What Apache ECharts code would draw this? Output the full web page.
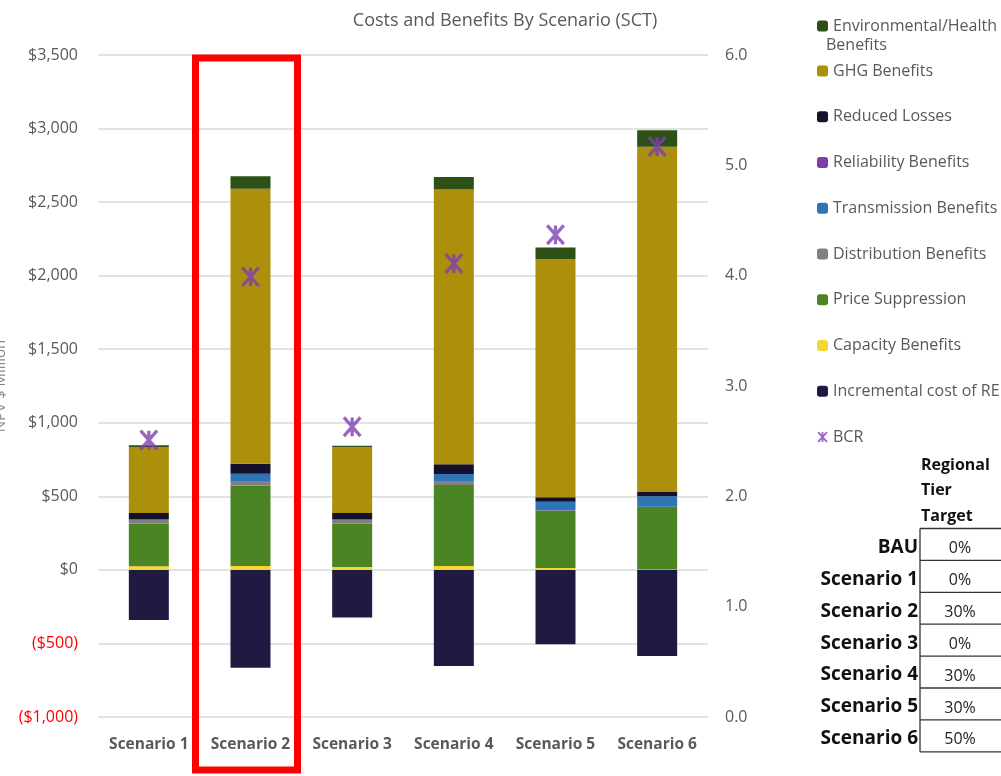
<!DOCTYPE html>
<html>
<head>
<meta charset="utf-8">
<script src="https://cdn.jsdelivr.net/npm/echarts@6/dist/echarts.min.js"></script>
<style>
html,body{margin:0;padding:0;background:#fff;}
#chart{width:1001px;height:776px;}
</style>
</head>
<body>
<div id="chart"></div>
<script>
// ---- data ----
const categories = ['Scenario 1', 'Scenario 2', 'Scenario 3', 'Scenario 4', 'Scenario 5', 'Scenario 6'];
const incrementalCost = [-340, -666, -324, -653, -505, -585];
const capacityBenefits = [25, 27, 20, 27, 12, 3];
const priceSuppression = [290, 546, 295, 550, 388, 426];
const distributionBenefits = [27, 32, 27, 27, 5, 0];
const transmissionBenefits = [0, 48, 0, 48, 59, 72];
const reliabilityBenefits = [0, 0, 0, 0, 0, 0];
const reducedLosses = [45, 68, 45, 66, 30, 32];
const ghgBenefits = [449, 1870, 446, 1868, 1620, 2343];
const envHealthBenefits = [12, 84, 11, 84, 77, 113];
const bcr = [2.51, 3.99, 2.63, 4.11, 4.37, 5.17];

const tableRowLabels = ['BAU', 'Scenario 1', 'Scenario 2', 'Scenario 3', 'Scenario 4', 'Scenario 5', 'Scenario 6'];
const tableTargets = ['0%', '0%', '30%', '0%', '30%', '30%', '50%'];
const tableHeader = ['Regional', 'Tier', 'Target'];

// ---- styles ----
const FONT = '"Open Sans", "Noto Sans", sans-serif';
const GREY = '#595959';
const colors = {
  env: '#2D5114',
  ghg: '#AC900C',
  reduced: '#15112D',
  reliability: '#7E3FA8',
  transmission: '#2E75B6',
  distribution: '#808080',
  price: '#4B8422',
  capacity: '#F6D632',
  incremental: '#1F1A42',
  bcr: '#7E3FB0'
};

const starPath = (function () {
  const t = 1.8;
  const lines = [[0, -10, 0, 10], [-9, -10, 9, 10], [9, -10, -9, 10]];
  let s = '';
  for (const [x1, y1, x2, y2] of lines) {
    const dx = x2 - x1, dy = y2 - y1, L = Math.hypot(dx, dy);
    const nx = dy / L * t, ny = -dx / L * t;
    s += 'M' + (x1 + nx) + ',' + (y1 + ny) + 'L' + (x2 + nx) + ',' + (y2 + ny) +
         'L' + (x2 - nx) + ',' + (y2 - ny) + 'L' + (x1 - nx) + ',' + (y1 - ny) + 'Z';
  }
  return 'path://' + s;
})();

function money(v) {
  const a = Math.abs(v).toLocaleString('en-US');
  return v < 0 ? '($' + a + ')' : '$' + a;
}

function barSeries(name, data, color) {
  return {
    name: name, type: 'bar', stack: 'total', data: data, barWidth: 40,
    itemStyle: { color: color }, emphasis: { disabled: true }
  };
}

const chart = echarts.init(document.getElementById('chart'), null, { renderer: 'canvas' });

const option = {
  animation: false,
  backgroundColor: '#fff',
  textStyle: { fontFamily: FONT },
  title: {
    text: 'Costs and Benefits By Scenario (SCT)',
    left: 500, textAlign: 'center', top: 7,
    textStyle: { fontFamily: FONT, fontSize: 18, fontWeight: 'normal', color: GREY }
  },
  grid: { left: 98, right: 293, top: 55, bottom: 59, containLabel: false, outerBoundsMode: 'none' },
  legend: [
    {
      orient: 'vertical', left: 812, top: 11,
      itemWidth: 11, itemHeight: 11, itemGap: 0,
      data: ['Environmental/Health Benefits'],
      formatter: function () { return 'Environmental/Health'; },
      textStyle: { fontFamily: FONT, fontSize: 16, color: GREY, lineHeight: 20 },
      selectedMode: false
    },
    {
      orient: 'vertical', left: 812, top: 56,
      itemWidth: 11, itemHeight: 11, itemGap: 25.75,
      data: [
        'GHG Benefits', 'Reduced Losses', 'Reliability Benefits', 'Transmission Benefits',
        'Distribution Benefits', 'Price Suppression', 'Capacity Benefits', 'Incremental cost of RE',
        { name: 'BCR', icon: starPath, itemStyle: { color: colors.bcr } }
      ],
      textStyle: { fontFamily: FONT, fontSize: 16, color: GREY, lineHeight: 20 },
      selectedMode: false
    }
  ],
  xAxis: {
    type: 'category', data: categories,
    axisLine: { show: false }, axisTick: { show: false },
    axisLabel: { interval: 0, fontFamily: FONT, fontSize: 15.5, fontWeight: 'bold', color: GREY, margin: 20 }
  },
  yAxis: [
    {
      type: 'value', min: -1000, max: 3500, interval: 500,
      name: 'NPV $ Million', nameLocation: 'middle', nameGap: 90, nameRotate: 90,
      nameTextStyle: { fontFamily: FONT, fontSize: 15, color: '#8a8a8a' },
      axisLine: { show: false }, axisTick: { show: false },
      splitLine: { lineStyle: { color: '#e3e3e3', width: 2 } },
      axisLabel: {
        fontFamily: FONT, fontSize: 16, margin: 20,
        formatter: money,
        color: function (v) { return Number(v) < 0 ? '#FF0000' : GREY; }
      }
    },
    {
      type: 'value', min: 0, max: 6, interval: 1, position: 'right',
      axisLine: { show: false }, axisTick: { show: false }, splitLine: { show: false },
      axisLabel: {
        fontFamily: FONT, fontSize: 16, color: GREY, margin: 17,
        formatter: function (v) { return Number(v).toFixed(1); }
      }
    }
  ],
  series: [
    barSeries('Incremental cost of RE', incrementalCost, colors.incremental),
    barSeries('Capacity Benefits', capacityBenefits, colors.capacity),
    barSeries('Price Suppression', priceSuppression, colors.price),
    barSeries('Distribution Benefits', distributionBenefits, colors.distribution),
    barSeries('Transmission Benefits', transmissionBenefits, colors.transmission),
    barSeries('Reliability Benefits', reliabilityBenefits, colors.reliability),
    barSeries('Reduced Losses', reducedLosses, colors.reduced),
    barSeries('GHG Benefits', ghgBenefits, colors.ghg),
    barSeries('Environmental/Health Benefits', envHealthBenefits, colors.env),
    {
      name: 'BCR', type: 'scatter', yAxisIndex: 1, data: bcr,
      symbol: starPath, symbolSize: [19, 21], z: 10,
      itemStyle: { color: colors.bcr }, emphasis: { disabled: true }
    }
  ]
};

chart.setOption(option);

// ---- annotations: legend wrap, highlight box, target table ----
const graphics = [];
graphics.push({
  type: 'text', left: 826, top: 37,
  style: { text: 'Benefits', font: '16px ' + FONT, fill: GREY }
});

const c2 = chart.convertToPixel({ xAxisIndex: 0 }, 'Scenario 2');
const topY = chart.convertToPixel({ yAxisIndex: 0 }, 3500);
graphics.push({
  type: 'rect', z: 100,
  shape: { x: c2 - 55, y: topY + 3, width: 102, height: 712 },
  style: { fill: 'none', stroke: '#FF0000', lineWidth: 7 }
});

// table
const tLeft = 920, tTop = 528.5, rowH = 31.9, tRight = 1010;
tableHeader.forEach(function (h, i) {
  graphics.push({
    type: 'text', left: 921, top: 457 + i * 25.5,
    style: { text: h, font: 'bold 16px ' + FONT, fill: '#111' }
  });
});
tableRowLabels.forEach(function (lab, i) {
  const y0 = tTop + i * rowH;
  graphics.push({
    type: 'text', x: 918, y: y0 + rowH / 2 + 3,
    style: { text: lab, font: 'bold 19px ' + FONT, fill: '#111', textAlign: 'right', textVerticalAlign: 'middle' }
  });
  graphics.push({
    type: 'text', x: 960, y: y0 + rowH / 2 + 4,
    style: { text: tableTargets[i], font: '16px ' + FONT, fill: '#222', textAlign: 'center', textVerticalAlign: 'middle' }
  });
  graphics.push({
    type: 'line', shape: { x1: tLeft, y1: y0, x2: tRight, y2: y0 },
    style: { stroke: '#333', lineWidth: 1.3 }
  });
});
graphics.push({
  type: 'line', shape: { x1: tLeft, y1: tTop + tableRowLabels.length * rowH, x2: tRight, y2: tTop + tableRowLabels.length * rowH },
  style: { stroke: '#333', lineWidth: 1.3 }
});
graphics.push({
  type: 'line', shape: { x1: tLeft, y1: tTop, x2: tLeft, y2: tTop + tableRowLabels.length * rowH },
  style: { stroke: '#333', lineWidth: 1.3 }
});

chart.setOption({ graphic: graphics });
</script>
</body>
</html>
